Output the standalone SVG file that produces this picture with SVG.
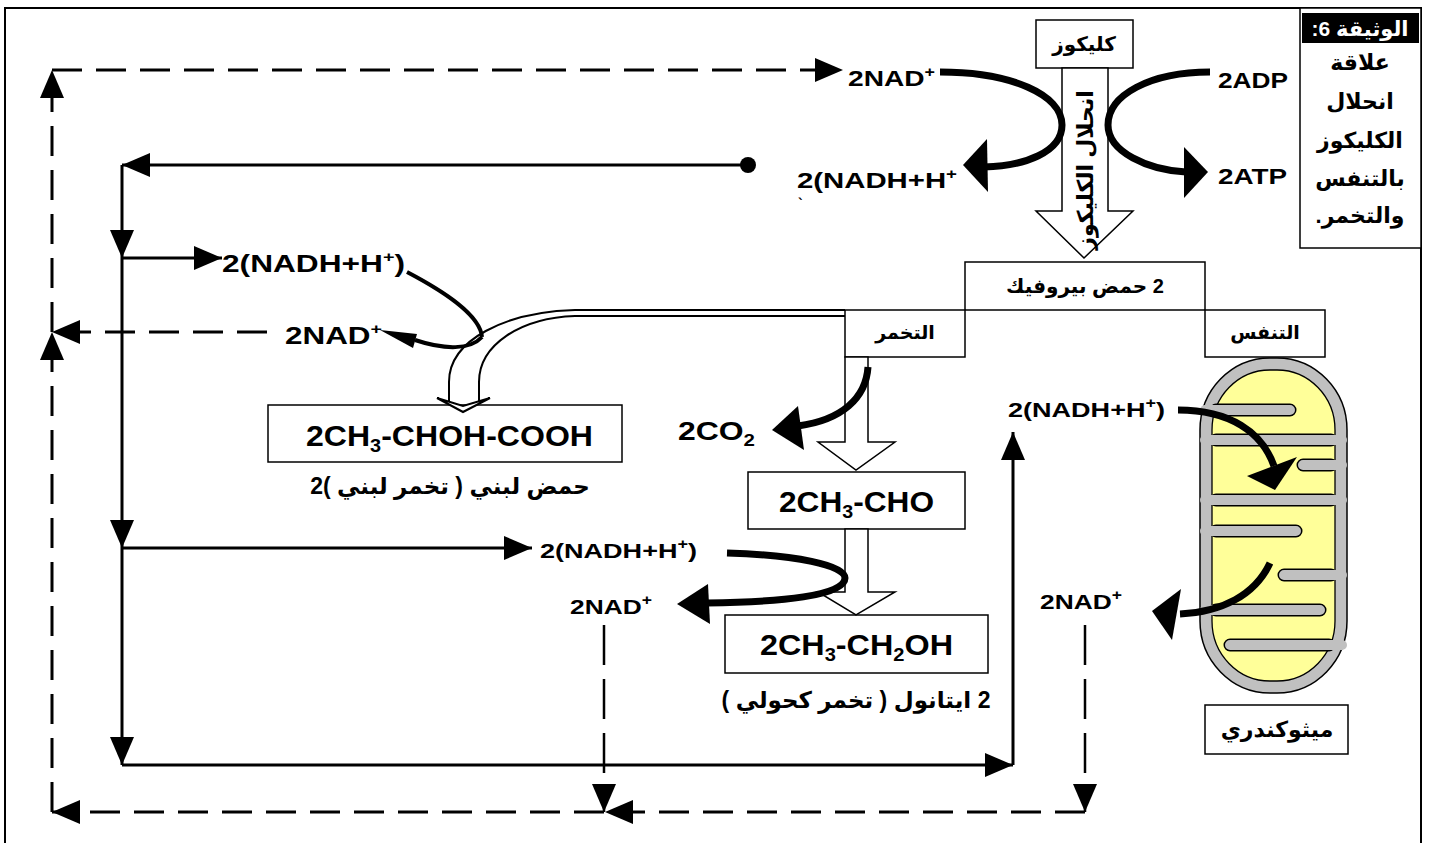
<svg xmlns="http://www.w3.org/2000/svg" width="1429" height="843" viewBox="0 0 1429 843">
<defs>
<style>
.t{font-family:"Liberation Sans","DejaVu Sans",sans-serif;font-weight:bold;fill:#000}
.ar{direction:rtl}
.box{fill:#fff;stroke:#000;stroke-width:1.5}
.ln{fill:none;stroke:#000;stroke-width:3}
.ds{fill:none;stroke:#000;stroke-width:3;stroke-dasharray:30 14}
.dv{fill:none;stroke:#000;stroke-width:2.5;stroke-dasharray:40 14}
.th{fill:none;stroke:#000;stroke-width:7}
.hol{fill:#fff;stroke:#000;stroke-width:1.5}
.cb{fill:none;stroke:#000;stroke-width:13;stroke-linecap:round}
.cg{fill:none;stroke:#c0c0c0;stroke-width:10;stroke-linecap:round}
</style>
<marker id="ah" viewBox="0 0 28 24" refX="28" refY="12" markerWidth="28" markerHeight="24" markerUnits="userSpaceOnUse" orient="auto"><path d="M0,0 L28,12 L0,24 z" fill="#000"/></marker>
</defs>
<rect width="1429" height="843" fill="#fff"/>
<path d="M5,843 V8 H1421 V843" fill="none" stroke="#000" stroke-width="2"/>

<g id="title">
<rect x="1300" y="8" width="121" height="240" class="box"/>
<rect x="1302" y="13" width="117" height="30" fill="#000"/>
<text x="1360" y="36" class="t ar" font-size="21" text-anchor="middle" style="fill:#fff">الوثيقة 6:</text>
<text x="1360" y="70" class="t ar" font-size="22" text-anchor="middle">علاقة</text>
<text x="1360" y="109" class="t ar" font-size="22" text-anchor="middle">انحلال</text>
<text x="1360" y="148" class="t ar" font-size="22" text-anchor="middle">الكليكوز</text>
<text x="1360" y="186" class="t ar" font-size="22" text-anchor="middle">بالتنفس</text>
<text x="1360" y="223" class="t ar" font-size="22" text-anchor="middle">والتخمر.</text>
</g>

<g id="glucose">
<rect x="1036" y="20" width="97" height="48" class="box"/>
<text x="1084" y="51" class="t ar" font-size="20" text-anchor="middle">كليكوز</text>
</g>

<g id="glycolysis-arrow">
<polygon points="1062,68 1108,68 1108,211 1133,211 1084,258 1036,211 1062,211" class="hol"/>
<text transform="translate(1093,170) rotate(-90)" class="t ar" font-size="22" text-anchor="middle">انحلال الكليكوز</text>
</g>

<g id="pyruvate">
<rect x="965" y="262" width="240" height="48" class="box"/>
<text x="1085" y="293" class="t ar" font-size="20" text-anchor="middle">2 حمض بيروفيك</text>
</g>
<g id="fermentation">
<rect x="845" y="310" width="120" height="47" class="box"/>
<text x="905" y="339" class="t ar" font-size="19" text-anchor="middle">التخمر</text>
</g>
<g id="respiration">
<rect x="1205" y="310" width="120" height="47" class="box"/>
<text x="1265" y="339" class="t ar" font-size="19" text-anchor="middle">التنفس</text>
</g>

<g id="lactic">
<rect x="268" y="405" width="354" height="57" class="box"/>
<text x="306" y="446" class="t" font-size="29" textLength="287" lengthAdjust="spacingAndGlyphs">2CH<tspan font-size="18" dy="6">3</tspan><tspan dy="-6">-CHOH-COOH</tspan></text>
<text x="450" y="494" class="t ar" font-size="23" text-anchor="middle">حمض لبني ( تخمر لبني )2</text>
</g>

<g id="acetaldehyde">
<rect x="748" y="472" width="217" height="57" class="box"/>
<text x="779" y="512" class="t" font-size="29" textLength="155" lengthAdjust="spacingAndGlyphs">2CH<tspan font-size="18" dy="6">3</tspan><tspan dy="-6">-CHO</tspan></text>
</g>

<g id="ethanol">
<rect x="725" y="615" width="263" height="58" class="box"/>
<text x="760" y="655" class="t" font-size="29" textLength="193" lengthAdjust="spacingAndGlyphs">2CH<tspan font-size="18" dy="6">3</tspan><tspan dy="-6">-CH</tspan><tspan font-size="18" dy="6">2</tspan><tspan dy="-6">OH</tspan></text>
<text x="856" y="708" class="t ar" font-size="23" text-anchor="middle">2 ايتانول ( تخمر كحولي )</text>
</g>

<g id="mitochondrion">
<rect x="1200" y="358" width="147" height="335" rx="70" ry="72" fill="#c0c0c0" stroke="#000" stroke-width="1.5"/>
<rect x="1212" y="370" width="123" height="311" rx="58" ry="60" fill="#ffff99" stroke="#000" stroke-width="1.3"/>
<path class="cb" d="M1216,410 H1290 M1216,440 H1331 M1331,465 H1303 M1216,500 H1331 M1216,531 H1296 M1331,575 H1284 M1216,610 H1320 M1329,645 H1230"/>
<path class="cg" d="M1205,410 H1290 M1205,440 H1342 M1342,465 H1303 M1205,500 H1342 M1205,531 H1296 M1342,575 H1284 M1205,610 H1320 M1342,645 H1230"/>
</g>
<g id="mito-label">
<rect x="1205" y="705" width="143" height="49" class="box"/>
<text x="1277" y="737" class="t ar" font-size="22" text-anchor="middle">ميثوكندري</text>
</g>

<g id="labels">
<text x="848" y="86" class="t" font-size="22" textLength="87" lengthAdjust="spacingAndGlyphs">2NAD<tspan font-size="14" dy="-9">+</tspan></text>
<text x="797" y="188" class="t" font-size="22" textLength="160" lengthAdjust="spacingAndGlyphs">2(NADH+H<tspan font-size="14" dy="-9">+</tspan></text>
<text x="798" y="209" class="t" font-size="14">`</text>
<text x="1218" y="88" class="t" font-size="22" textLength="70" lengthAdjust="spacingAndGlyphs">2ADP</text>
<text x="1218" y="184" class="t" font-size="22" textLength="69" lengthAdjust="spacingAndGlyphs">2ATP</text>
<text x="222" y="272" class="t" font-size="24" textLength="183" lengthAdjust="spacingAndGlyphs">2(NADH+H<tspan font-size="15" dy="-10">+</tspan><tspan dy="10">)</tspan></text>
<text x="285" y="344" class="t" font-size="24" textLength="97" lengthAdjust="spacingAndGlyphs">2NAD<tspan font-size="15" dy="-10">+</tspan></text>
<text x="678" y="440" class="t" font-size="25" textLength="77" lengthAdjust="spacingAndGlyphs">2CO<tspan font-size="16" dy="6">2</tspan></text>
<text x="540" y="558" class="t" font-size="21" textLength="157" lengthAdjust="spacingAndGlyphs">2(NADH+H<tspan font-size="14" dy="-9">+</tspan><tspan dy="9">)</tspan></text>
<text x="570" y="614" class="t" font-size="21" textLength="82" lengthAdjust="spacingAndGlyphs">2NAD<tspan font-size="14" dy="-9">+</tspan></text>
<text x="1008" y="417" class="t" font-size="21" textLength="157" lengthAdjust="spacingAndGlyphs">2(NADH+H<tspan font-size="14" dy="-9">+</tspan><tspan dy="9">)</tspan></text>
<text x="1040" y="609" class="t" font-size="21" textLength="82" lengthAdjust="spacingAndGlyphs">2NAD<tspan font-size="14" dy="-9">+</tspan></text>
</g>

<g id="connectors">
<polygon points="845,357 868,357 868,442 895,442 856,470 818,442 845,442" class="hol"/>
<polygon points="845,529 868,529 868,592 895,592 856,615 818,592 845,592" class="hol"/>
<path d="M845,310 H575 C505,312 449,340 449,382 V404" class="ln" style="stroke-width:2"/>
<path d="M845,316 H575 C520,318 479,345 479,382 V404" class="ln" style="stroke-width:2"/>
<polygon points="437,398 463,412 490,398 463,406" fill="#fff" stroke="#000" stroke-width="2"/>

<circle cx="748" cy="165" r="8" fill="#000"/>
<path d="M748,165 H122" class="ln" marker-end="url(#ah)"/>
<path d="M122,165 V258" class="ln" marker-end="url(#ah)"/>
<path d="M122,258 V548" class="ln" marker-end="url(#ah)"/>
<path d="M122,548 V765" class="ln" marker-end="url(#ah)"/>
<path d="M122,258 H222" class="ln" marker-end="url(#ah)"/>
<path d="M122,548 H532" class="ln" marker-end="url(#ah)"/>
<path d="M122,765 H1013" class="ln" marker-end="url(#ah)"/>
<path d="M1013,765 V432" class="ln" marker-end="url(#ah)"/>

<path d="M52,812 V332" class="ds" marker-end="url(#ah)"/>
<path d="M52,332 V70" class="ds" marker-end="url(#ah)"/>
<path d="M52,70 H843" class="ds" marker-end="url(#ah)"/>
<path d="M267,332 H52" class="ds" marker-end="url(#ah)"/>
<path d="M1085,625 V812" class="dv" marker-end="url(#ah)"/>
<path d="M604,625 V812" class="dv" marker-end="url(#ah)"/>
<path d="M1085,812 H605" class="ds" marker-end="url(#ah)"/>
<path d="M604,812 H52" class="ds" marker-end="url(#ah)"/>

<path d="M940,72 C1012,72 1062,95 1062,125 C1062,152 1025,166 984,167" class="th"/>
<polygon points="963,165 987,139 988,192"/>
<path d="M1210,72 C1150,72 1108,95 1108,125 C1108,152 1148,170 1186,172" class="th"/>
<polygon points="1208,172 1184,147 1184,198"/>
<path d="M868,367 C866,398 842,420 798,426" class="th"/>
<polygon points="772,430 798,406 804,450"/>
<path d="M727,553 C795,555 845,565 845,578 C845,596 780,602 707,603" class="th"/>
<polygon points="677,604 708,584 710,624"/>
<path d="M407,272 C445,292 480,315 482,337" class="ln" style="stroke-width:4"/>
<path d="M482,337 C470,350 445,350 415,340" class="ln" style="stroke-width:4"/>
<polygon points="380,330 417,334 413,348"/>
<path d="M1178,410 C1230,410 1262,432 1274,466" class="th"/>
<polygon points="1275,490 1247,476 1297,457"/>
<path d="M1270,563 C1255,595 1222,612 1180,614" class="th"/>
<polygon points="1152,611 1181,589 1172,640"/>
</g>
</svg>
